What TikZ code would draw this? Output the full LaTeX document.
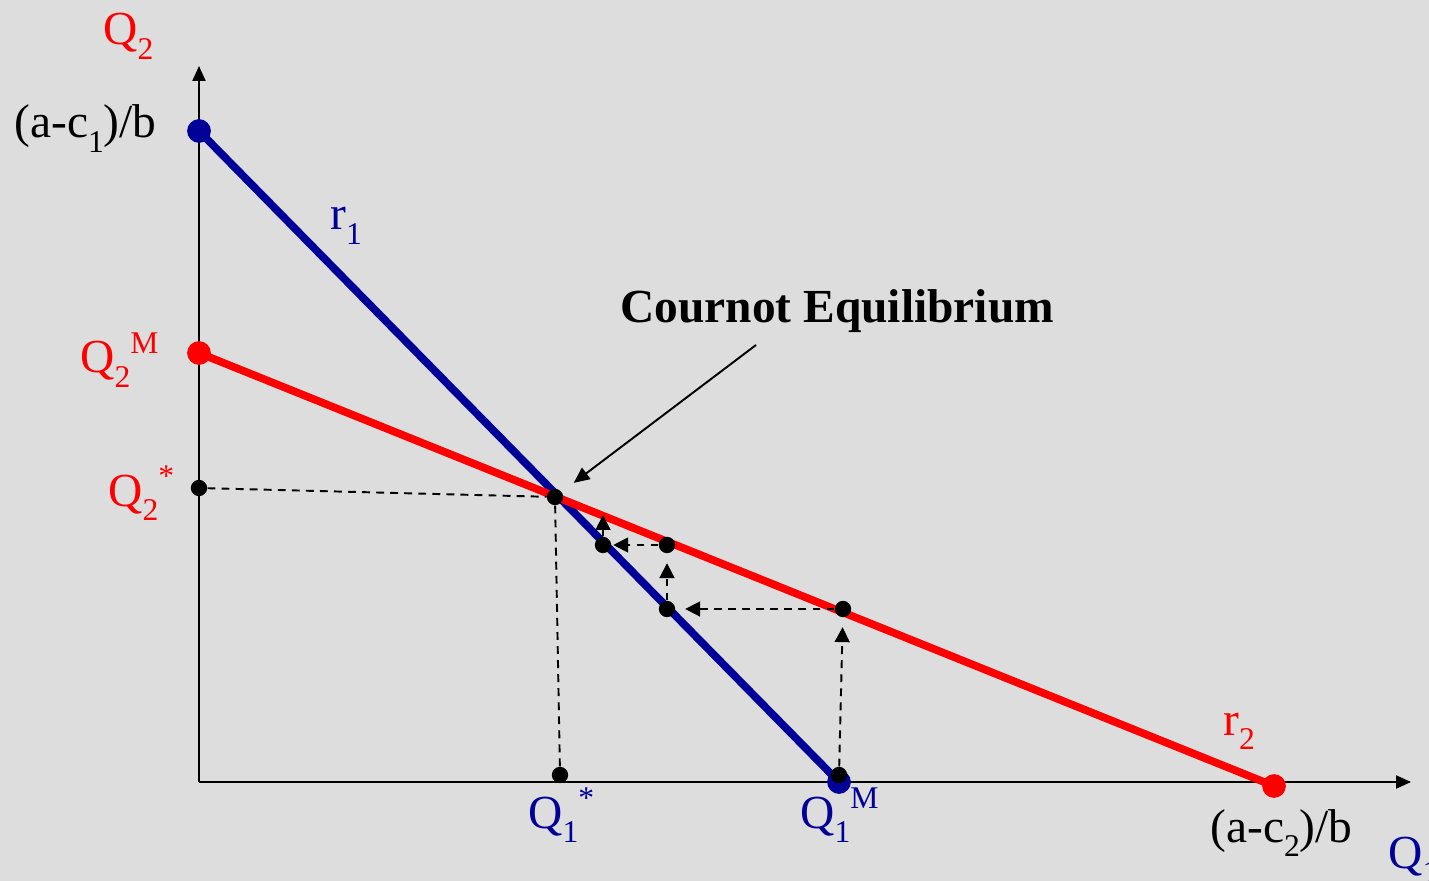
\documentclass[tikz,border=0pt]{standalone}
\usepackage{fontspec}
\setmainfont{Liberation Serif}
\usetikzlibrary{arrows.meta}
\definecolor{bgc}{HTML}{DDDDDD}
\definecolor{navy}{HTML}{000099}
\definecolor{rd}{HTML}{FF0000}
\newcommand{\lo}[1]{\raisebox{-0.3em}{\fontsize{18}{18}\selectfont #1}}
\newcommand{\hi}[1]{\raisebox{0.42em}{\fontsize{18}{18}\selectfont #1}}
\pgfdeclarelayer{back}
\pgfdeclarelayer{lines}
\pgfsetlayers{back,lines,main}
\begin{document}
\begin{tikzpicture}[x=0.02cm,y=-0.02cm,
  lbl/.style={font=\fontsize{27}{30}\selectfont, inner sep=0, anchor=base west},
  bigdot/.style={circle, fill=#1, minimum size=13.5pt, inner sep=0},
  smalldot/.style={circle, fill=black, minimum size=9.3pt, inner sep=0},
  axis/.style={line width=1.1pt, -{Triangle[length=8.5pt,width=7.4pt]}},
  curve/.style={line width=4.4pt},
  guide/.style={line width=1.1pt, dash pattern=on 4.5pt off 3.5pt},
  guidearrow/.style={guide, -{Triangle[length=8.5pt,width=8.5pt]}},
  pointer/.style={line width=1.1pt, -{Triangle[length=9pt,width=8pt]}}
]
\useasboundingbox (0,0) rectangle (1429,881);
\begin{pgfonlayer}{back}
\fill[bgc] (0,0) rectangle (1429,881);
\end{pgfonlayer}
\clip (0,0) rectangle (1429,881);

% axes
\coordinate (O) at (199,782);
\coordinate (ytip) at (199,66);
\coordinate (xtip) at (1411,782);

% points
\node[bigdot=navy] (A1) at (199,131) {};
\node[bigdot=rd] (A2) at (199,353) {};
\node[bigdot=navy] (Q1M) at (839,782) {};
\node[bigdot=rd] (B2) at (1274,786) {};
\node[smalldot] (Q2s) at (199,488) {};
\node[smalldot] (E) at (555,497) {};
\node[smalldot] (Q1s) at (560,775) {};
\node[smalldot] (P0) at (839,775) {};
\node[smalldot] (P1) at (843,609) {};
\node[smalldot] (P2) at (667,609) {};
\node[smalldot] (P3) at (667,545) {};
\node[smalldot] (P4) at (603,545) {};
\coordinate (P5) at (603,515);
\coordinate (CE) at (756,345);

\begin{pgfonlayer}{lines}
\draw[axis] (O) -- (ytip);
\draw[axis] (O) -- (xtip);
\draw[curve, navy] (A1.center) -- (Q1M.center);
\draw[curve, rd] (A2.center) -- (B2.center);
\draw[guide] (Q2s) -- (E);
\draw[guide] (E) -- (Q1s);
\draw[guidearrow, shorten >=5.5pt] (P0) -- (P1);
\draw[guidearrow, shorten >=5.5pt] (P1) -- (P2);
\draw[guidearrow, shorten >=5.5pt] (P2) -- (P3);
\draw[guidearrow, shorten >=1pt] (P3) -- (P4);
\draw[guidearrow] (P4) -- (P5);
\draw[pointer, shorten >=8.5pt] (CE) -- (E);
\end{pgfonlayer}

% labels
\node[lbl, rd] (lQ2) at (103,45) {Q\lo{2}};
\node[lbl] (lA1) at (14,138) {(a-c\lo{1})/b};
\node[lbl, navy] (lr1) at (330,230) {r\lo{1}};
\node[lbl, rd] (lQ2M) at (80,373) {Q\lo{2}\hi{M}};
\node[lbl, rd] (lQ2s) at (108,506) {Q\lo{2}\hi{*}};
\node[lbl, navy] (lQ1s) at (528,828) {Q\lo{1}\hi{*}};
\node[lbl, navy] (lQ1M) at (800,828) {Q\lo{1}\hi{M}};
\node[lbl] (lB2) at (1210,842) {(a-c\lo{2})/b};
\node[lbl, rd] (lr2) at (1223,735) {r\lo{2}};
\node[lbl, navy] (lQ1) at (1388,868) {Q\lo{1}};
\node[lbl, font=\fontsize{27}{30}\selectfont\bfseries] (title) at (620,323) {Cournot Equilibrium};
\end{tikzpicture}
\end{document}
